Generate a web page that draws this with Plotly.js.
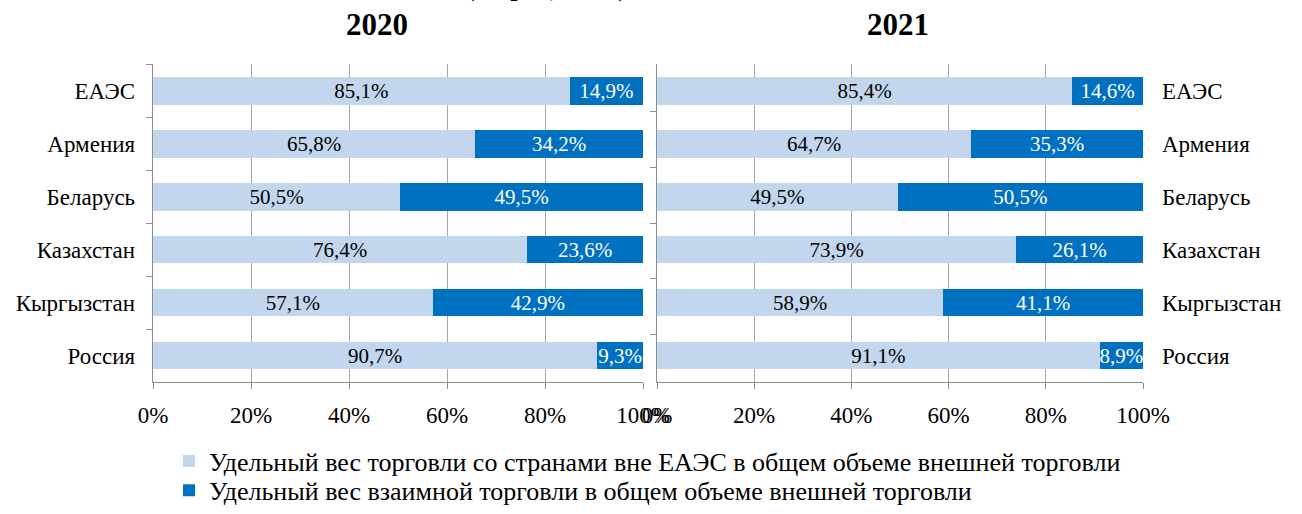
<!DOCTYPE html>
<html><head><meta charset="utf-8">
<script src="https://cdn.plot.ly/plotly-3.0.1.min.js"></script>
<style>html,body{margin:0;padding:0;background:#fff}#chart{width:1302px;height:514px}</style>
</head><body><div id="chart"></div>
<script>
const categories = ["ЕАЭС","Армения","Беларусь","Казахстан","Кыргызстан","Россия"];
const outside2020 = [85.1,65.8,50.5,76.4,57.1,90.7];
const mutual2020  = [14.9,34.2,49.5,23.6,42.9,9.3];
const outside2021 = [85.4,64.7,49.5,73.9,58.9,91.1];
const mutual2021  = [14.6,35.3,50.5,26.1,41.1,8.9];
const yearTitles = ["2020","2021"];
const seriesNames = ["Удельный вес торговли со странами вне ЕАЭС в общем объеме внешней торговли",
                     "Удельный вес взаимной торговли в общем объеме внешней торговли"];
const tickVals = [0,20,40,60,80,100];

const LIGHT = "#C2D7EE", DARK = "#0070C0";
const FONT = "Times New Roman, Tinos, Liberation Serif, DejaVu Serif, serif";
const fmt = v => v.toFixed(1).replace(".", ",") + "%";

function bar(vals, name, color, txtColor, xa, ya, showLegend, legendId) {
  return {
    type: "bar", orientation: "h", x: vals, y: categories, name: name,
    xaxis: xa, yaxis: ya, showlegend: showLegend, legendgroup: name, legend: legendId,
    marker: {color: color},
    text: vals.map(fmt), textposition: "inside", insidetextanchor: "middle",
    constraintext: "none", cliponaxis: false,
    textfont: {family: FONT, size: 21, color: txtColor},
    hoverinfo: "skip"
  };
}

const data = [
  bar(outside2020, seriesNames[0], LIGHT, "#000", "x", "y", true, "legend"),
  bar(mutual2020, seriesNames[1], DARK, "#fff", "x", "y", true, "legend2"),
  bar(outside2021, seriesNames[0], LIGHT, "#000", "x2", "y2", false, "legend"),
  bar(mutual2021, seriesNames[1], DARK, "#fff", "x2", "y2", false, "legend2"),
  {type: "scatter", mode: "markers", x: categories.map(() => 0), y: categories,
   xaxis: "x2", yaxis: "y3", marker: {opacity: 0}, showlegend: false, hoverinfo: "skip"}
];

const axisLine = "#8C8C8C", gridC = "#A6A6A6";
const xCommon = {
  range: [0, 100], tickvals: tickVals, ticktext: tickVals.map(v => v + "%"),
  showgrid: true, gridcolor: gridC, gridwidth: 1, zeroline: false,
  showline: true, linecolor: axisLine, linewidth: 1.3,
  ticks: "outside", ticklen: 6, tickcolor: axisLine, ticklabelstandoff: 6,
  tickfont: {family: FONT, size: 23, color: "#000"}, fixedrange: true
};
const yCommon = {
  type: "category", categoryorder: "array", categoryarray: categories,
  autorange: "reversed", showgrid: false, zeroline: false,
  tickfont: {family: FONT, size: 23, color: "#000"}, fixedrange: true
};
const yDom = [1 - 392/514, 1 - 66/514];
const legFont = {family: FONT, size: 26, color: "#000"};

const layout = {
  width: 1302, height: 514,
  margin: {l: 0, r: 0, t: 0, b: 0},
  paper_bgcolor: "#fff", plot_bgcolor: "rgba(0,0,0,0)",
  barmode: "stack", bargap: 0.48,
  font: {family: FONT, color: "#000"},
  xaxis: Object.assign({}, xCommon, {domain: [153/1302, 643/1302], anchor: "y"}),
  xaxis2: Object.assign({}, xCommon, {domain: [657/1302, 1143/1302], anchor: "y2"}),
  yaxis: Object.assign({}, yCommon, {domain: yDom, anchor: "x", side: "left",
    showline: true, linecolor: axisLine, linewidth: 1.3,
    ticks: "outside", tickson: "boundaries", ticklen: 6, tickcolor: axisLine,
    ticklabelstandoff: 12}),
  yaxis2: Object.assign({}, yCommon, {domain: yDom, anchor: "x2", side: "right",
    showline: false, ticks: "", ticklabelstandoff: 18}),
  yaxis3: Object.assign({}, yCommon, {overlaying: "y2", anchor: "x2", side: "left",
    showticklabels: false, showline: true, linecolor: axisLine, linewidth: 1.3,
    ticks: "outside", tickson: "boundaries", ticklen: 6, tickcolor: axisLine}),
  legend: {orientation: "v", x: 169/1302, xanchor: "left", y: 1 - 473/514, yanchor: "middle",
    font: legFont, itemwidth: 30, bgcolor: "rgba(0,0,0,0)"},
  legend2: {orientation: "v", x: 169/1302, xanchor: "left", y: 1 - 503/514, yanchor: "middle",
    font: legFont, itemwidth: 30, bgcolor: "rgba(0,0,0,0)"},
  annotations: [
    {text: "<b>" + yearTitles[0] + "</b>", xref: "paper", yref: "paper",
     x: 377/1302, y: 1 - 25/514, xanchor: "center", yanchor: "middle", showarrow: false,
     font: {family: FONT, size: 31, color: "#000"}},
    {text: "<b>" + yearTitles[1] + "</b>", xref: "paper", yref: "paper",
     x: 898/1302, y: 1 - 25/514, xanchor: "center", yanchor: "middle", showarrow: false,
     font: {family: FONT, size: 31, color: "#000"}},
    {text: "<b>(в процентах)</b>", xref: "paper", yref: "paper",
     x: 546/1302, y: 1 - 4/514, xanchor: "center", yanchor: "bottom", showarrow: false,
     font: {family: FONT, size: 26, color: "#000"}}
  ]
};

Plotly.newPlot("chart", data, layout, {displayModeBar: false, staticPlot: true});
</script></body></html>
